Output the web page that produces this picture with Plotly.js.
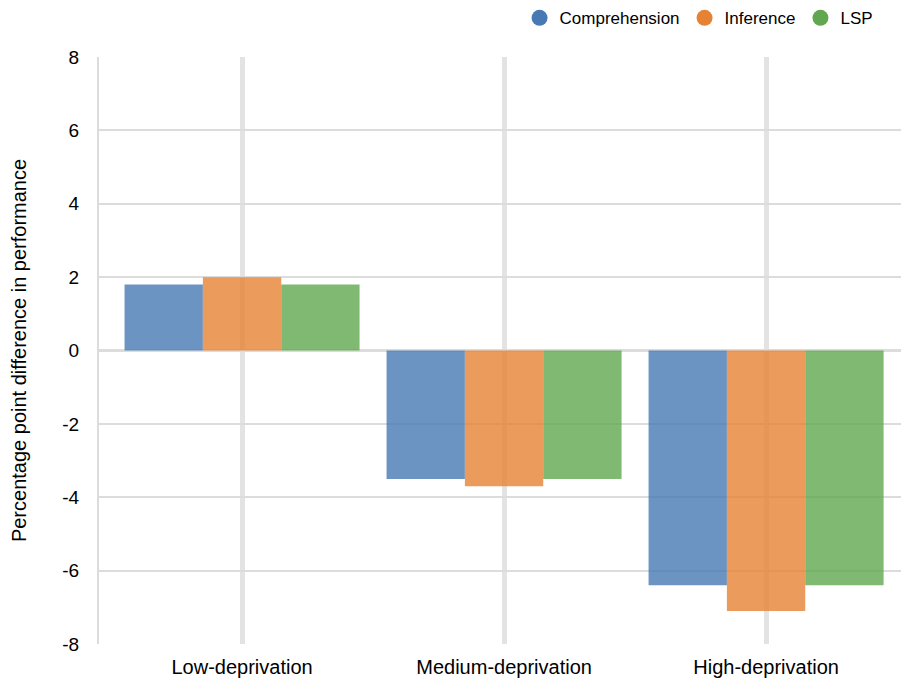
<!DOCTYPE html>
<html>
<head>
<meta charset="utf-8">
<script src="https://cdn.plot.ly/plotly-3.0.1.min.js"></script>
<style>
  html, body { margin: 0; padding: 0; background: #ffffff; }
  #chart { width: 901px; height: 682px; }
</style>
</head>
<body>
<div id="chart"></div>
<script>
// Deprivation groups along the x axis
const groups = ['Low-deprivation', 'Medium-deprivation', 'High-deprivation'];

// Percentage point difference per measure
const comprehension = [1.8, -3.5, -6.4];
const inference = [2.0, -3.7, -7.1];
const lsp = [1.8, -3.5, -6.4];

// Y axis ticks, written with a plain hyphen for negatives
const yTickVals = [-8, -6, -4, -2, 0, 2, 4, 6, 8];
const yTickText = ['-8', '-6', '-4', '-2', '0', '2', '4', '6', '8'];

const seriesNames = ['Comprehension', 'Inference', 'LSP'];
const seriesColors = ['#4779B3', '#E68233', '#60A74F'];
const seriesValues = [comprehension, inference, lsp];

const font = 'Liberation Sans, Arial, sans-serif';

const traces = [];
// Bars (semi-transparent so the gridlines show through)
seriesValues.forEach((vals, i) => {
  traces.push({
    type: 'bar',
    x: groups,
    y: vals,
    name: seriesNames[i],
    marker: { color: seriesColors[i], opacity: 0.8, line: { width: 0 } },
    showlegend: false,
    hoverinfo: 'x+y+name'
  });
});
// Round legend keys
seriesValues.forEach((vals, i) => {
  traces.push({
    type: 'scatter',
    mode: 'markers',
    x: [null],
    y: [null],
    name: seriesNames[i],
    marker: { color: seriesColors[i], size: 18, symbol: 'circle' },
    showlegend: true
  });
});

const layout = {
  width: 901,
  height: 682,
  margin: { l: 99, r: 0, t: 57, b: 38, autoexpand: false },
  paper_bgcolor: '#ffffff',
  plot_bgcolor: '#ffffff',
  font: { family: font, size: 17, color: '#000000' },
  barmode: 'group',
  bargap: 0.103,
  bargroupgap: 0,
  showlegend: true,
  legend: {
    orientation: 'h',
    x: 0.972,
    xanchor: 'right',
    y: 1.066,
    yanchor: 'middle',
    font: { family: font, size: 17, color: '#000000' },
    itemwidth: 30,
    tracegroupgap: 0,
    bgcolor: 'rgba(0,0,0,0)'
  },
  xaxis: {
    type: 'category',
    range: [-0.546, 2.515],
    showgrid: true,
    gridcolor: '#e3e3e3',
    gridwidth: 5,
    showline: false,
    ticks: '',
    tickfont: { family: font, size: 20, color: '#000000' },
    ticklabelstandoff: 9,
    zeroline: false,
    fixedrange: true
  },
  yaxis: {
    range: [-8, 8],
    tickmode: 'array',
    tickvals: yTickVals,
    ticktext: yTickText,
    showgrid: true,
    gridcolor: '#dcdcdc',
    gridwidth: 2,
    zeroline: true,
    zerolinecolor: '#dcdcdc',
    zerolinewidth: 3,
    showline: true,
    linecolor: '#dcdcdc',
    linewidth: 2,
    ticks: '',
    tickfont: { family: font, size: 19, color: '#000000' },
    ticklabelstandoff: 14,
    title: {
      text: 'Percentage point difference in performance',
      font: { family: font, size: 20, color: '#000000' },
      standoff: 30
    },
    fixedrange: true
  }
};

Plotly.newPlot('chart', traces, layout, { displayModeBar: false, responsive: false });
</script>
</body>
</html>
